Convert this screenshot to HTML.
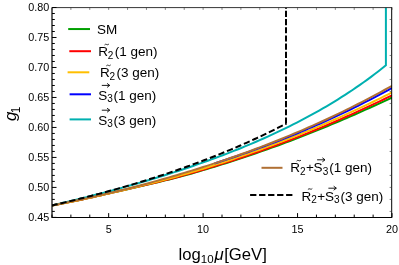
<!DOCTYPE html><html><head><meta charset="utf-8"><style>html,body{margin:0;padding:0;background:#fff;width:399px;height:265px;overflow:hidden}</style></head><body><svg width="399" height="265" viewBox="0 0 399 265" style="position:absolute;left:0;top:0;will-change:transform">
<rect width="399" height="265" fill="#fff"/>
<defs><clipPath id="c"><rect x="52" y="7.5" width="340" height="209.9"/></clipPath></defs>
<g clip-path="url(#c)" fill="none" stroke-width="2.0" stroke-linejoin="miter">
<path d="M52.00 205.41 L55.78 204.73 L59.56 204.03 L63.33 203.32 L67.11 202.58 L70.89 201.82 L74.67 201.04 L78.44 200.25 L82.22 199.44 L86.00 198.62 L89.78 197.79 L93.56 196.95 L97.33 196.10 L101.11 195.24 L104.89 194.38 L108.67 193.52 L112.44 192.65 L116.22 191.79 L120.00 190.92 L123.78 190.06 L127.56 189.20 L131.33 188.33 L135.11 187.47 L138.89 186.60 L142.67 185.73 L146.44 184.86 L150.22 183.98 L154.00 183.10 L157.78 182.21 L161.56 181.30 L165.33 180.39 L169.11 179.45 L172.89 178.50 L176.67 177.53 L180.44 176.55 L184.22 175.54 L188.00 174.50 L191.78 173.45 L195.56 172.36 L199.33 171.27 L203.11 170.16 L206.89 169.03 L210.67 167.90 L214.44 166.75 L218.22 165.59 L222.00 164.41 L225.78 163.23 L229.56 162.02 L233.33 160.81 L237.11 159.58 L240.89 158.34 L244.67 157.09 L248.44 155.82 L252.22 154.54 L256.00 153.24 L259.78 151.93 L263.56 150.61 L267.33 149.28 L271.11 147.93 L274.89 146.56 L278.67 145.19 L282.44 143.80 L286.22 142.39 L290.00 140.97 L293.78 139.54 L297.56 138.09 L301.33 136.63 L305.11 135.16 L308.89 133.67 L312.67 132.16 L316.44 130.65 L320.22 129.12 L324.00 127.57 L327.78 126.02 L331.56 124.45 L335.33 122.86 L339.11 121.26 L342.89 119.65 L346.67 118.02 L350.44 116.39 L354.22 114.73 L358.00 113.07 L361.78 111.39 L365.56 109.70 L369.33 108.00 L373.11 106.28 L376.89 104.56 L380.67 102.82 L384.44 101.07 L388.22 99.30 L392.00 97.53" stroke="#00a000"/>
<path d="M52.00 205.41 L55.78 204.72 L59.56 204.02 L63.33 203.29 L67.11 202.55 L70.89 201.79 L74.67 201.02 L78.44 200.23 L82.22 199.42 L86.00 198.60 L89.78 197.77 L93.56 196.93 L97.33 196.08 L101.11 195.23 L104.89 194.37 L108.67 193.50 L112.44 192.63 L116.22 191.76 L120.00 190.89 L123.78 190.01 L127.56 189.14 L131.33 188.26 L135.11 187.38 L138.89 186.49 L142.67 185.61 L146.44 184.71 L150.22 183.81 L154.00 182.91 L157.78 181.99 L161.56 181.06 L165.33 180.12 L169.11 179.16 L172.89 178.19 L176.67 177.19 L180.44 176.18 L184.22 175.15 L188.00 174.10 L191.78 173.03 L195.56 171.93 L199.33 170.82 L203.11 169.69 L206.89 168.56 L210.67 167.40 L214.44 166.24 L218.22 165.06 L222.00 163.87 L225.78 162.66 L229.56 161.44 L233.33 160.21 L237.11 158.97 L240.89 157.70 L244.67 156.43 L248.44 155.14 L252.22 153.84 L256.00 152.52 L259.78 151.19 L263.56 149.85 L267.33 148.49 L271.11 147.11 L274.89 145.72 L278.67 144.32 L282.44 142.90 L286.22 141.47 L290.00 140.02 L293.78 138.56 L297.56 137.08 L301.33 135.59 L305.11 134.09 L308.89 132.56 L312.67 131.03 L316.44 129.48 L320.22 127.91 L324.00 126.33 L327.78 124.73 L331.56 123.12 L335.33 121.49 L339.11 119.85 L342.89 118.20 L346.67 116.53 L350.44 114.84 L354.22 113.14 L358.00 111.42 L361.78 109.69 L365.56 107.95 L369.33 106.19 L373.11 104.42 L376.89 102.63 L380.67 100.83 L384.44 99.02 L388.22 97.19 L392.00 95.35" stroke="#ff0000"/>
<path d="M52.00 205.41 L55.78 204.70 L59.56 203.98 L63.33 203.25 L67.11 202.50 L70.89 201.73 L74.67 200.96 L78.44 200.17 L82.22 199.36 L86.00 198.55 L89.78 197.72 L93.56 196.89 L97.33 196.04 L101.11 195.19 L104.89 194.33 L108.67 193.46 L112.44 192.58 L116.22 191.70 L120.00 190.80 L123.78 189.91 L127.56 189.00 L131.33 188.09 L135.11 187.17 L138.89 186.25 L142.67 185.32 L146.44 184.37 L150.22 183.42 L154.00 182.46 L157.78 181.49 L161.56 180.50 L165.33 179.51 L169.11 178.49 L172.89 177.47 L176.67 176.43 L180.44 175.37 L184.22 174.30 L188.00 173.21 L191.78 172.10 L195.56 170.97 L199.33 169.83 L203.11 168.68 L206.89 167.51 L210.67 166.33 L214.44 165.13 L218.22 163.92 L222.00 162.70 L225.78 161.47 L229.56 160.22 L233.33 158.95 L237.11 157.67 L240.89 156.38 L244.67 155.08 L248.44 153.76 L252.22 152.42 L256.00 151.07 L259.78 149.71 L263.56 148.33 L267.33 146.93 L271.11 145.53 L274.89 144.10 L278.67 142.66 L282.44 141.21 L286.22 139.74 L290.00 138.26 L293.78 136.76 L297.56 135.25 L301.33 133.72 L305.11 132.17 L308.89 130.61 L312.67 129.04 L316.44 127.45 L320.22 125.84 L324.00 124.22 L327.78 122.58 L331.56 120.93 L335.33 119.26 L339.11 117.58 L342.89 115.88 L346.67 114.17 L350.44 112.44 L354.22 110.69 L358.00 108.93 L361.78 107.16 L365.56 105.37 L369.33 103.57 L373.11 101.75 L376.89 99.91 L380.67 98.07 L384.44 96.21 L388.22 94.33 L392.00 92.44" stroke="#ffbf00"/>
<path d="M214.44 163.44 L218.22 162.22 L222.00 160.99 L225.78 159.74 L229.56 158.49 L233.33 157.22 L237.11 155.93 L240.89 154.63 L244.67 153.32 L248.44 151.99 L252.22 150.65 L256.00 149.28 L259.78 147.91 L263.56 146.51 L267.33 145.10 L271.11 143.68 L274.89 142.23 L278.67 140.77 L282.44 139.30 L286.22 137.80 L290.00 136.29 L293.78 134.76 L297.56 133.21 L301.33 131.64 L305.11 130.05 L308.89 128.45 L312.67 126.82 L316.44 125.18 L320.22 123.52 L324.00 121.83 L327.78 120.13 L331.56 118.41 L335.33 116.67 L339.11 114.90 L342.89 113.12 L346.67 111.32 L350.44 109.49 L354.22 107.64 L358.00 105.78 L361.78 103.89 L365.56 101.98 L369.33 100.04 L373.11 98.09 L376.89 96.11 L380.67 94.11 L384.44 92.09 L388.22 90.04 L392.00 87.97" stroke="#0000ff"/>
<path d="M52.00 205.41 L55.71 204.55 L59.42 203.68 L63.13 202.81 L66.84 201.93 L70.55 201.04 L74.26 200.14 L77.97 199.24 L81.68 198.32 L85.39 197.40 L89.10 196.47 L92.81 195.53 L96.52 194.58 L100.23 193.62 L103.94 192.65 L107.65 191.67 L111.36 190.68 L115.07 189.68 L118.78 188.67 L122.49 187.65 L126.20 186.62 L129.91 185.58 L133.62 184.53 L137.33 183.46 L141.04 182.39 L144.75 181.30 L148.46 180.20 L152.17 179.09 L155.88 177.96 L159.59 176.82 L163.30 175.67 L167.01 174.51 L170.72 173.33 L174.43 172.14 L178.14 170.94 L181.85 169.72 L185.56 168.48 L189.27 167.23 L192.98 165.97 L196.69 164.68 L200.40 163.39 L204.11 162.07 L207.82 160.74 L211.53 159.40 L215.24 158.03 L218.95 156.65 L222.66 155.25 L226.37 153.83 L230.08 152.39 L233.79 150.93 L237.50 149.45 L241.21 147.95 L244.92 146.42 L248.63 144.88 L252.34 143.31 L256.05 141.73 L259.76 140.11 L263.47 138.48 L267.18 136.82 L270.89 135.13 L274.60 133.42 L278.31 131.68 L282.02 129.91 L285.73 128.12 L289.44 126.30 L293.15 124.44 L296.86 122.56 L300.57 120.64 L304.28 118.70 L307.99 116.72 L311.70 114.70 L315.41 112.65 L319.12 110.57 L322.83 108.44 L326.54 106.28 L330.25 104.08 L333.96 101.84 L337.67 99.55 L341.38 97.22 L345.09 94.85 L348.80 92.43 L352.51 89.96 L356.22 87.44 L359.93 84.87 L363.64 82.25 L367.35 79.57 L371.06 76.83 L374.77 74.04 L378.48 71.18 L382.19 68.26 L385.90 65.28 L385.90 7.50" stroke="#00b0b0"/>
<path d="M52.00 205.41 L55.78 204.66 L59.56 203.90 L63.33 203.14 L67.11 202.37 L70.89 201.59 L74.67 200.80 L78.44 200.00 L82.22 199.20 L86.00 198.38 L89.78 197.55 L93.56 196.72 L97.33 195.87 L101.11 195.01 L104.89 194.14 L108.67 193.26 L112.44 192.37 L116.22 191.46 L120.00 190.54 L123.78 189.61 L127.56 188.66 L131.33 187.70 L135.11 186.73 L138.89 185.74 L142.67 184.74 L146.44 183.73 L150.22 182.70 L154.00 181.66 L157.78 180.61 L161.56 179.55 L165.33 178.47 L169.11 177.38 L172.89 176.28 L176.67 175.17 L180.44 174.05 L184.22 172.91 L188.00 171.77 L191.78 170.61 L195.56 169.44 L199.33 168.26 L203.11 167.06 L206.89 165.85 L210.67 164.63 L214.44 163.39 L218.22 162.14 L222.00 160.87 L225.78 159.59 L229.56 158.29 L233.33 156.98 L237.11 155.65 L240.89 154.31 L244.67 152.95 L248.44 151.58 L252.22 150.19 L256.00 148.78 L259.78 147.36 L263.56 145.92 L267.33 144.46 L271.11 142.99 L274.89 141.50 L278.67 139.99 L282.44 138.47 L286.22 136.92 L290.00 135.36 L293.78 133.79 L297.56 132.19 L301.33 130.58 L305.11 128.94 L308.89 127.29 L312.67 125.62 L316.44 123.93 L320.22 122.22 L324.00 120.49 L327.78 118.74 L331.56 116.97 L335.33 115.18 L339.11 113.37 L342.89 111.54 L346.67 109.69 L350.44 107.82 L354.22 105.93 L358.00 104.01 L361.78 102.08 L365.56 100.12 L369.33 98.14 L373.11 96.14 L376.89 94.11 L380.67 92.07 L384.44 90.00 L388.22 87.90 L392.00 85.79" stroke="#b07034"/>
<path d="M52.00 205.41 L54.60 204.81 L57.20 204.21 L59.80 203.60 L62.40 202.99 L65.00 202.38 L67.60 201.76 L70.20 201.13 L72.80 200.50 L75.40 199.86 L78.00 199.22 L80.60 198.57 L83.20 197.92 L85.80 197.26 L88.40 196.59 L91.00 195.92 L93.60 195.25 L96.20 194.56 L98.80 193.88 L101.40 193.18 L104.00 192.48 L106.60 191.78 L109.20 191.06 L111.80 190.35 L114.40 189.62 L117.00 188.89 L119.60 188.15 L122.20 187.41 L124.80 186.66 L127.40 185.90 L130.00 185.14 L132.60 184.37 L135.20 183.59 L137.80 182.81 L140.40 182.02 L143.00 181.22 L145.60 180.42 L148.20 179.60 L150.80 178.78 L153.40 177.96 L156.00 177.12 L158.60 176.28 L161.20 175.43 L163.80 174.58 L166.40 173.71 L169.00 172.84 L171.60 171.96 L174.20 171.07 L176.80 170.18 L179.40 169.27 L182.00 168.36 L184.60 167.44 L187.20 166.51 L189.80 165.57 L192.40 164.63 L195.00 163.67 L197.60 162.71 L200.20 161.73 L202.80 160.75 L205.40 159.76 L208.00 158.76 L210.60 157.75 L213.20 156.73 L215.80 155.70 L218.40 154.66 L221.00 153.61 L223.60 152.55 L226.20 151.48 L228.80 150.40 L231.40 149.31 L234.00 148.21 L236.60 147.10 L239.20 145.97 L241.80 144.84 L244.40 143.70 L247.00 142.54 L249.60 141.37 L252.20 140.19 L254.80 139.00 L257.40 137.80 L260.00 136.58 L262.60 135.35 L265.20 134.11 L267.80 132.86 L270.40 131.60 L273.00 130.32 L275.60 129.03 L278.20 127.72 L280.80 126.40 L283.40 125.07 L286.00 123.72" stroke="#000" stroke-dasharray="6.3 2.9" stroke-dashoffset="0.6"/>
<path d="M286.00 124.62 V123.52" stroke="#000"/>
<path d="M286.00 123.57 V7.50" stroke="#000" stroke-dasharray="6.15 2.05"/>
</g>
<g stroke="#000" fill="none">
<path d="M52 7.5 V217.5 H392" stroke-width="1.2"/>
<path d="M52 7.6 H391.7" stroke-width="0.8"/><path d="M391.7 7.2 V218" stroke-width="1"/>
<path d="M52 217.40 h4.5 M52 211.40 h2.8 M52 205.41 h2.8 M52 199.41 h2.8 M52 193.41 h2.8 M52 187.42 h4.5 M52 181.42 h2.8 M52 175.42 h2.8 M52 169.42 h2.8 M52 163.43 h2.8 M52 157.43 h4.5 M52 151.43 h2.8 M52 145.44 h2.8 M52 139.44 h2.8 M52 133.44 h2.8 M52 127.45 h4.5 M52 121.45 h2.8 M52 115.45 h2.8 M52 109.45 h2.8 M52 103.46 h2.8 M52 97.46 h4.5 M52 91.46 h2.8 M52 85.47 h2.8 M52 79.47 h2.8 M52 73.47 h2.8 M52 67.48 h4.5 M52 61.48 h2.8 M52 55.48 h2.8 M52 49.48 h2.8 M52 43.49 h2.8 M52 37.49 h4.5 M52 31.49 h2.8 M52 25.50 h2.8 M52 19.50 h2.8 M52 13.50 h2.8 M52 7.50 h4.5 M52.00 217.4 v-2.8 M70.89 217.4 v-2.8 M89.78 217.4 v-2.8 M108.67 217.4 v-4.3 M127.56 217.4 v-2.8 M146.44 217.4 v-2.8 M165.33 217.4 v-2.8 M184.22 217.4 v-2.8 M203.11 217.4 v-4.3 M222.00 217.4 v-2.8 M240.89 217.4 v-2.8 M259.78 217.4 v-2.8 M278.67 217.4 v-2.8 M297.56 217.4 v-4.3 M316.44 217.4 v-2.8 M335.33 217.4 v-2.8 M354.22 217.4 v-2.8 M373.11 217.4 v-2.8 M392.00 217.4 v-4.3" stroke-width="1"/>
<path d="M392 211.40 h-2.4 M392 199.41 h-2.4 M392 187.42 h-2.4 M392 175.42 h-2.4 M392 163.43 h-2.4 M392 151.43 h-2.4 M392 139.44 h-2.4 M392 127.44 h-2.4 M392 115.45 h-2.4 M392 103.46 h-2.4 M392 91.46 h-2.4 M392 79.47 h-2.4 M392 67.48 h-2.4 M392 55.48 h-2.4 M392 43.49 h-2.4 M392 31.49 h-2.4 M392 19.50 h-2.4 M52.00 7.5 v2.4 M70.89 7.5 v2.4 M89.78 7.5 v2.4 M108.67 7.5 v2.4 M127.56 7.5 v2.4 M146.44 7.5 v2.4 M165.33 7.5 v2.4 M184.22 7.5 v2.4 M203.11 7.5 v2.4 M222.00 7.5 v2.4 M240.89 7.5 v2.4 M259.78 7.5 v2.4 M278.67 7.5 v2.4 M297.56 7.5 v2.4 M316.44 7.5 v2.4 M335.33 7.5 v2.4 M354.22 7.5 v2.4 M373.11 7.5 v2.4 M392.00 7.5 v2.4" stroke-width="0.6" stroke="#333"/>
</g>
<g stroke-width="2.0" fill="none">
<path d="M68.2 29.05 H90" stroke="#00a000"/>
<path d="M69.3 51.2 H91" stroke="#ff0000"/>
<path d="M67.6 72.3 H89.3" stroke="#ffbf00"/>
<path d="M69.6 94.3 H91" stroke="#0000ff"/>
<path d="M69.6 119.4 H91" stroke="#00b0b0"/>
<path d="M261.5 167.8 H282.5" stroke="#b07034"/>
<path d="M250.1 195.1 H292.4" stroke="#000" stroke-dasharray="6.3 2.7"/>
</g>
<g font-family="Liberation Sans, sans-serif" fill="#000">
<text x="49.2" y="221.30" font-size="10.8" text-anchor="end">0.45</text>
<text x="49.2" y="191.32" font-size="10.8" text-anchor="end">0.50</text>
<text x="49.2" y="161.33" font-size="10.8" text-anchor="end">0.55</text>
<text x="49.2" y="131.34" font-size="10.8" text-anchor="end">0.60</text>
<text x="49.2" y="101.36" font-size="10.8" text-anchor="end">0.65</text>
<text x="49.2" y="71.38" font-size="10.8" text-anchor="end">0.70</text>
<text x="49.2" y="41.39" font-size="10.8" text-anchor="end">0.75</text>
<text x="49.2" y="11.40" font-size="10.8" text-anchor="end">0.80</text>
<text x="108.67" y="232.5" font-size="10.8" text-anchor="middle">5</text>
<text x="203.11" y="232.5" font-size="10.8" text-anchor="middle">10</text>
<text x="297.56" y="232.5" font-size="10.8" text-anchor="middle">15</text>
<text x="392.00" y="232.5" font-size="10.8" text-anchor="middle">20</text>
<text x="178.5" y="259.6" font-size="16.7">log<tspan font-size="11.5" dy="3.3">10</tspan><tspan dy="-3.3" dx="0.9" font-style="italic">μ</tspan><tspan dx="0.5">[GeV]</tspan></text>
<text transform="translate(15.9 121) rotate(-90)" font-size="16.7" font-style="italic">g<tspan font-size="11.9" dy="4.5" dx="-1.6" font-style="normal">1</tspan></text>
<text x="97.00" y="34.00" font-size="13.5">SM</text>
<text x="98.20" y="56.30" font-size="13.5">R</text><text x="107.80" y="58.60" font-size="10">2</text><text x="114.80" y="56.30" font-size="13.5">(1 gen)</text><path d="M104.50 45.00 q1.1 -1.3 2.2 -0.5 q1.1 0.8 2.2 -0.5" stroke="#000" stroke-width="0.8" fill="none"/>
<text x="100.00" y="77.20" font-size="13.5">R</text><text x="109.60" y="79.50" font-size="10">2</text><text x="116.60" y="77.20" font-size="13.5">(3 gen)</text><path d="M106.30 65.90 q1.1 -1.3 2.2 -0.5 q1.1 0.8 2.2 -0.5" stroke="#000" stroke-width="0.8" fill="none"/>
<text x="98.30" y="99.80" font-size="13.5">S</text><text x="107.20" y="102.10" font-size="10">3</text><text x="113.40" y="99.80" font-size="13.5">(1 gen)</text><path d="M101.80 85.40 H109.70 M107.10 83.40 l2.6 2 l-2.6 2" stroke="#000" stroke-width="0.9" fill="none"/>
<text x="98.30" y="124.60" font-size="13.5">S</text><text x="107.20" y="126.90" font-size="10">3</text><text x="113.40" y="124.60" font-size="13.5">(3 gen)</text><path d="M101.80 110.20 H109.70 M107.10 108.20 l2.6 2 l-2.6 2" stroke="#000" stroke-width="0.9" fill="none"/>
<text x="290.30" y="172.40" font-size="13.5">R</text><text x="299.90" y="174.70" font-size="10">2</text><text x="305.90" y="172.40" font-size="13.5">+</text><path d="M296.60 161.10 q1.1 -1.3 2.2 -0.5 q1.1 0.8 2.2 -0.5" stroke="#000" stroke-width="0.8" fill="none"/><text x="313.60" y="172.40" font-size="13.5">S</text><text x="322.80" y="174.70" font-size="10">3</text><text x="329.30" y="172.40" font-size="13.5">(1 gen)</text><path d="M317.10 159.80 H325.00 M322.40 157.80 l2.6 2 l-2.6 2" stroke="#000" stroke-width="0.9" fill="none"/>
<text x="301.60" y="200.80" font-size="13.5">R</text><text x="311.20" y="203.10" font-size="10">2</text><text x="317.20" y="200.80" font-size="13.5">+</text><path d="M307.90 189.50 q1.1 -1.3 2.2 -0.5 q1.1 0.8 2.2 -0.5" stroke="#000" stroke-width="0.8" fill="none"/><text x="324.90" y="200.80" font-size="13.5">S</text><text x="334.10" y="203.10" font-size="10">3</text><text x="340.60" y="200.80" font-size="13.5">(3 gen)</text><path d="M328.40 188.20 H336.30 M333.70 186.20 l2.6 2 l-2.6 2" stroke="#000" stroke-width="0.9" fill="none"/>
</g>
</svg></body></html>
